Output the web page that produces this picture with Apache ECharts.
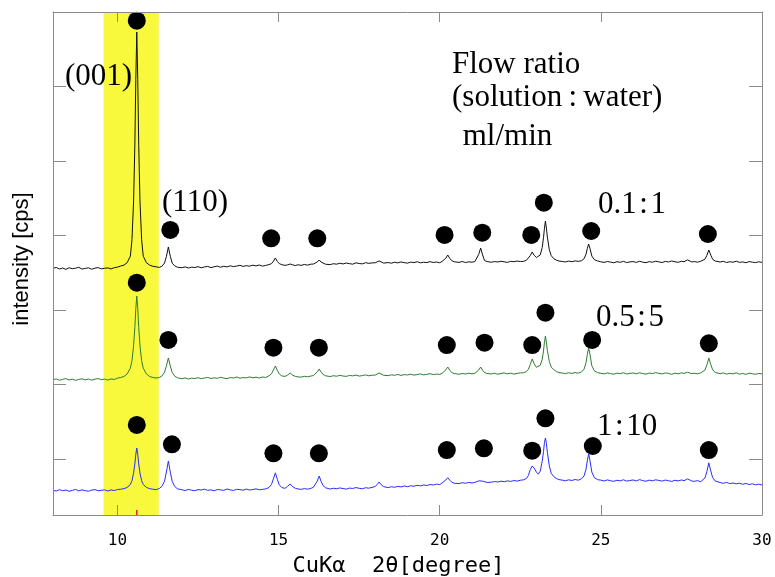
<!DOCTYPE html>
<html>
<head>
<meta charset="utf-8">
<script src="https://cdn.jsdelivr.net/npm/echarts@6/dist/echarts.min.js"></script>
<style>
  html, body { margin: 0; padding: 0; background: #fff; }
  #chart { width: 775px; height: 577px; }
</style>
</head>
<body>
<div id="chart"></div>
<script>
// 2θ sampling positions (degree), shared by the three diffraction patterns.
// Coarse 0.1° steps on the background, finer steps across each reflection.
const twoTheta = [
  8.0, 8.1, 8.2, 8.3, 8.4, 8.5, 8.6, 8.7, 8.8, 8.9, 9.0, 9.1, 9.2, 9.3, 9.4, 9.5, 9.6, 9.7, 9.8, 9.9,
  10.0, 10.1, 10.2, 10.3, 10.4, 10.45, 10.5, 10.54, 10.57, 10.6, 10.63, 10.66, 10.7, 10.75, 10.8, 10.9, 11.0, 11.1, 11.2,
  11.3, 11.38, 11.46, 11.52, 11.58, 11.64, 11.7, 11.78, 11.86,
  12.0, 12.1, 12.2, 12.3, 12.4, 12.5, 12.6, 12.7, 12.8, 12.9, 13.0, 13.1, 13.2, 13.3, 13.4, 13.5, 13.6, 13.7, 13.8, 13.9, 14.0, 14.1, 14.2, 14.3, 14.4, 14.5, 14.6,
  14.7, 14.78, 14.84, 14.9, 14.96, 15.02, 15.1, 15.2, 15.28, 15.36, 15.44, 15.52, 15.6,
  15.7, 15.8, 15.9, 16.0,
  16.08, 16.14, 16.2, 16.26, 16.32, 16.38, 16.46,
  16.6, 16.7, 16.8, 16.9, 17.0, 17.1, 17.2, 17.3, 17.4, 17.5, 17.6, 17.7, 17.8, 17.9,
  18.0, 18.06, 18.12, 18.18, 18.26,
  18.4, 18.5, 18.6, 18.7, 18.8, 18.9, 19.0, 19.1, 19.2, 19.3, 19.4, 19.5, 19.6, 19.7, 19.8, 19.9, 20.0,
  20.07, 20.13, 20.19, 20.25, 20.31, 20.37, 20.45,
  20.6, 20.7, 20.8, 20.9, 21.0,
  21.09, 21.15, 21.21, 21.27, 21.33, 21.39, 21.47,
  21.6, 21.7, 21.8, 21.9, 22.0, 22.1, 22.2, 22.3, 22.4, 22.5,
  22.6, 22.69, 22.75, 22.81, 22.87, 22.93, 23.0, 23.06, 23.12, 23.18, 23.22, 23.25, 23.28, 23.31, 23.34, 23.4, 23.46, 23.54, 23.62, 23.7,
  23.8, 23.9, 24.0, 24.1, 24.2, 24.3,
  24.4, 24.48, 24.54, 24.58, 24.62, 24.66, 24.72, 24.8, 24.9,
  25.0, 25.1, 25.2, 25.3, 25.4, 25.5, 25.6, 25.7, 25.8, 25.9, 26.0, 26.1, 26.2, 26.3, 26.4, 26.5, 26.6, 26.7, 26.8, 26.9, 27.0, 27.1, 27.2, 27.3, 27.4, 27.5,
  27.58, 27.64, 27.69, 27.75, 27.82,
  27.9, 28.0, 28.1,
  28.16, 28.23, 28.29, 28.35, 28.41, 28.47, 28.55,
  28.7, 28.8, 28.9, 29.0, 29.1, 29.2, 29.3, 29.4, 29.5, 29.6, 29.7, 29.8, 29.9, 30.0
];

// Intensity (cps, offset for stacking) — flow ratio 0.1:1
const ratio01to1 = [
  3310, 3322, 3301, 3314, 3296, 3318, 3305, 3312, 3324, 3300, 3309, 3317, 3298, 3313, 3320, 3303, 3311, 3316, 3302, 3319,
  3326, 3341, 3353, 3385, 3473, 3695, 4202, 4962, 5849, 6482, 5849, 4962, 4202, 3695, 3473, 3385, 3353, 3337, 3330,
  3322, 3338, 3381, 3471, 3597, 3471, 3379, 3342, 3325,
  3318, 3330, 3314, 3326, 3321, 3333, 3317, 3329, 3336, 3320, 3331, 3340, 3325, 3338, 3329, 3344, 3333, 3341, 3350, 3336, 3346, 3339, 3352, 3343, 3355, 3340, 3349,
  3360, 3373, 3405, 3449, 3403, 3374, 3359, 3350, 3357, 3368, 3356, 3348, 3358,
  3350, 3362, 3353, 3366,
  3368, 3375, 3395, 3422, 3394, 3374, 3365,
  3360, 3372, 3366, 3378, 3369, 3381, 3373, 3366, 3384, 3375, 3370, 3386, 3377, 3383,
  3385, 3396, 3409, 3394, 3380,
  3388, 3379, 3392, 3383, 3396, 3386, 3380, 3394, 3388, 3399, 3384, 3392, 3387, 3400, 3389, 3395, 3385,
  3402, 3416, 3447, 3489, 3445, 3414, 3398,
  3390, 3402, 3388, 3397, 3393,
  3400, 3418, 3498, 3583, 3490, 3415, 3401,
  3392, 3401, 3395, 3405, 3398, 3390, 3404, 3399, 3408, 3402,
  3404, 3418, 3440, 3482, 3530, 3485, 3455, 3450, 3490, 3590, 3720, 3850, 3945, 3850, 3730, 3560, 3480, 3440, 3420, 3408,
  3402, 3396, 3407, 3399, 3410, 3404,
  3412, 3440, 3500, 3578, 3637, 3580, 3475, 3426, 3409,
  3398, 3389, 3402, 3394, 3385, 3399, 3391, 3404, 3387, 3396, 3401, 3390, 3405, 3393, 3386, 3400, 3392, 3406, 3397, 3388, 3403, 3395, 3409, 3398, 3391, 3404,
  3398, 3410, 3424, 3406, 3396,
  3401, 3393, 3405,
  3410, 3433, 3485, 3556, 3488, 3430, 3408,
  3395, 3404, 3388, 3399, 3392, 3406, 3390, 3397, 3385, 3401, 3393, 3387, 3398, 3390
];

// Intensity — flow ratio 0.5:5
const ratio05to5 = [
  1815, 1827, 1808, 1821, 1830, 1811, 1823, 1806, 1819, 1828, 1813, 1825, 1809, 1822, 1831, 1816, 1824, 1810, 1826, 1818,
  1836, 1845, 1858, 1892, 1970, 2070, 2271, 2516, 2772, 2939, 2772, 2516, 2271, 2070, 1970, 1892, 1858, 1845, 1838,
  1846, 1865, 1915, 2003, 2107, 2000, 1912, 1862, 1842,
  1828, 1840, 1825, 1836, 1831, 1843, 1829, 1838, 1846, 1832, 1841, 1835, 1848, 1837, 1830, 1845, 1839, 1851, 1836, 1844, 1840, 1853, 1842, 1849, 1838, 1852, 1845,
  1868, 1895, 1945, 2000, 1942, 1893, 1866, 1860, 1878, 1906, 1876, 1860, 1853,
  1850, 1861, 1855, 1864,
  1872, 1888, 1920, 1959, 1918, 1886, 1868,
  1858, 1869, 1862, 1874, 1865, 1860, 1873, 1867, 1878, 1864, 1871, 1880, 1868, 1876,
  1878, 1892, 1906, 1889, 1875,
  1870, 1881, 1875, 1886, 1873, 1884, 1879, 1890, 1877, 1885, 1893, 1880, 1888, 1896, 1884, 1891, 1887,
  1900, 1916, 1948, 1986, 1944, 1913, 1898,
  1889, 1898, 1892, 1902, 1894,
  1901, 1915, 1945, 1986, 1943, 1912, 1899,
  1893, 1902, 1889, 1899, 1906, 1895, 1903, 1891, 1900, 1907,
  1908, 1925, 1955, 2020, 2094, 2030, 1982, 1975, 2010, 2090, 2200, 2320, 2402, 2320, 2210, 2060, 1985, 1950, 1925, 1912,
  1905, 1897, 1909, 1900, 1911, 1903,
  1920, 1958, 2043, 2156, 2241, 2160, 2002, 1934, 1910,
  1902, 1893, 1907, 1897, 1889, 1904, 1896, 1910, 1892, 1900, 1906, 1894, 1909, 1898, 1890, 1905, 1897, 1911, 1901, 1893, 1907, 1899, 1888, 1903, 1895, 1908,
  1900, 1906, 1915, 1904, 1897,
  1903, 1895, 1907,
  1914, 1945, 2015, 2107, 2020, 1948, 1912,
  1897, 1906, 1891, 1901, 1894, 1908, 1890, 1899, 1887, 1903, 1895, 1889, 1900, 1893
];

// Intensity — flow ratio 1:10
const ratio1to10 = [
  332, 321, 340, 326, 335, 318, 330, 343, 324, 337, 327, 319, 334, 341, 325, 331, 338, 322, 336, 328,
  342, 346, 353, 370, 409, 460, 561, 685, 815, 899, 815, 685, 561, 460, 409, 370, 353, 346, 340,
  356, 384, 453, 578, 725, 575, 450, 382, 352,
  339, 328, 344, 333, 326, 341, 335, 347, 330, 338, 324, 343, 336, 331, 349, 337, 329, 345, 340, 333, 348, 335, 342, 351, 338, 344, 350,
  368, 410, 485, 566, 480, 405, 368, 358, 385, 416, 380, 358, 350,
  344, 354, 347, 357,
  372, 398, 455, 523, 450, 395, 365,
  348, 359, 352, 363, 355, 347, 361, 356, 368, 358, 352, 366, 360, 371,
  383, 412, 443, 408, 380,
  368, 379, 372, 384, 377, 389, 380, 392, 386, 398, 391, 403, 396, 409, 402, 414, 408,
  428, 443, 470, 500, 468, 441, 426,
  422, 433, 426, 437, 430,
  438, 445, 458, 472, 455, 443, 437,
  440, 449, 443, 454, 447, 458, 451, 462, 455, 466,
  472, 490, 530, 610, 658, 630, 575, 548, 590, 720, 850, 970, 1033, 960, 840, 660, 560, 515, 490, 475,
  468, 459, 472, 463, 476, 467,
  487, 525, 615, 730, 819, 735, 575, 500, 474,
  468, 456, 471, 460, 452, 466, 458, 473, 455, 463, 470, 457, 475, 461, 453, 468, 459, 472, 464, 455, 469, 460, 451, 466, 458, 470,
  460, 472, 485, 468, 456,
  452, 461, 447,
  460, 497, 582, 700, 590, 500, 455,
  436, 425, 438, 421, 430, 418, 427, 412, 424, 409, 419, 405, 414, 402
];

// Filled-circle markers above the indexed reflections [2θ, cps]
const marks01to1 = [[10.60, 6634], [11.64, 3825], [14.77, 3713], [16.20, 3713], [20.15, 3758],
  [21.32, 3788], [22.84, 3758], [23.23, 4191], [24.70, 3811], [28.32, 3771]];
const marks05to5 = [[10.60, 3117], [11.58, 2349], [14.84, 2245], [16.25, 2245], [20.22, 2281],
  [21.39, 2313], [22.87, 2281], [23.28, 2715], [24.73, 2349], [28.35, 2304]];
const marks1to10 = [[10.60, 1208], [11.69, 949], [14.84, 828], [16.25, 828], [20.22, 872],
  [21.37, 895], [22.87, 863], [23.28, 1298], [24.75, 926], [28.35, 872]];

// Highlighted (001) region and its reference position
const band001 = [9.57, 11.28];
const ref001 = [[10.6, 0]];

// Axis settings
const xRange = [8, 30];
const xTicks = [10, 15, 20, 25, 30];
const yRange = [0, 6750];
const yTicks = [750, 1750, 2750, 3750, 4750, 5750];

const toPairs = vals => twoTheta.map((t, i) => [t, vals[i]]);

const frame = '#8a8a8a';
const serif = '"Liberation Serif", "Times New Roman", serif';

const chart = echarts.init(document.getElementById('chart'), null, { renderer: 'canvas' });

function xAxisDef(pos, labelled) {
  return {
    type: 'value', position: pos, min: xRange[0], max: xRange[1], z: 10,
    axisLine: { show: true, onZero: false, lineStyle: { color: frame, width: 1 } },
    axisTick: { show: true, inside: true, length: 10, customValues: xTicks, lineStyle: { color: frame } },
    axisLabel: labelled
      ? { show: true, customValues: xTicks, margin: 18, color: '#000', fontSize: 16, fontFamily: '"DejaVu Sans Mono", monospace' }
      : { show: false },
    splitLine: { show: false }
  };
}
function yAxisDef(pos) {
  return {
    type: 'value', position: pos, min: yRange[0], max: yRange[1], z: 10,
    axisLine: { show: true, onZero: false, lineStyle: { color: frame, width: 1 } },
    axisTick: { show: true, inside: true, length: 13, customValues: yTicks, lineStyle: { color: frame } },
    axisLabel: { show: false },
    splitLine: { show: false }
  };
}

const xBottom = Object.assign(xAxisDef('bottom', true), {
  name: 'CuKα  2θ[degree]',
  nameLocation: 'middle',
  nameGap: 40,
  nameTextStyle: { color: '#000', fontSize: 22, fontFamily: '"DejaVu Sans Mono", monospace', padding: [0, 18, 0, 0] }
});
const yLeft = Object.assign(yAxisDef('left'), {
  name: 'intensity [cps]',
  nameLocation: 'middle',
  nameGap: 20,
  nameTextStyle: { color: '#000', fontSize: 22, fontFamily: '"Liberation Sans", Arial, sans-serif', padding: [0, 0, 0, 9] }
});

function trace(name, vals, color) {
  return {
    name, type: 'line', data: toPairs(vals), showSymbol: false, symbol: 'none',
    lineStyle: { color, width: 1 }, z: 3, silent: true, animation: false
  };
}
function dots(vals) {
  return {
    type: 'scatter', data: vals, symbol: 'circle', symbolSize: 18,
    itemStyle: { color: '#000', opacity: 1 }, z: 4, silent: true, clip: false
  };
}

function label(text, x, y) {
  return { type: 'text', x, y, z: 20,
    style: { text, fill: '#000', font: '31px ' + serif, verticalAlign: 'middle', align: 'left' } };
}

const option = {
  animation: false,
  backgroundColor: '#fff',
  grid: { left: 53, right: 13, top: 12, bottom: 62, containLabel: false, outerBoundsMode: 'none' },
  xAxis: [xBottom, xAxisDef('top', false)],
  yAxis: [yLeft, yAxisDef('right')],
  series: [
    {
      type: 'line', data: [], z: 1, silent: true,
      markArea: { silent: true, itemStyle: { color: '#f8f83c', opacity: 1 },
        data: [[{ xAxis: band001[0] }, { xAxis: band001[1] }]] }
    },
    trace('0.1:1', ratio01to1, '#111'),
    trace('0.5:5', ratio05to5, '#2e7d32'),
    trace('1:10', ratio1to10, '#2b2bff'),
    dots(marks01to1),
    dots(marks05to5),
    dots(marks1to10),
    {
      type: 'scatter', data: ref001, symbol: 'rect', symbolSize: [1.5, 5], symbolOffset: [0, -2.5],
      itemStyle: { color: '#e02020', opacity: 1 }, z: 5, silent: true, clip: false
    }
  ],
  graphic: [
    label('(001)', 65, 77),
    label('(110)', 162, 203),
    label('Flow ratio', 452, 65),
    label('(solution\u2009:\u2009water)', 452, 98),
    label(' ml/min', 455, 137),
    label('0.1\u200a:\u200a1', 598, 205),
    label('0.5\u200a:\u200a5', 596, 318),
    label('1\u200a:\u200a10', 597, 427)
  ]
};

chart.setOption(option);
</script>
</body>
</html>
